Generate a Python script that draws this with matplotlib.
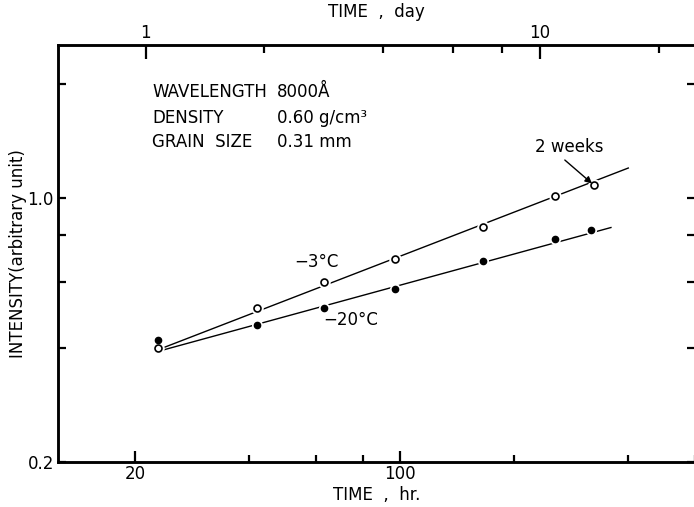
import numpy as np
import matplotlib
matplotlib.use("Agg")
from matplotlib import pyplot as plt
from matplotlib.ticker import FixedLocator, NullFormatter

# data
hours_warm = [23, 42, 63, 97, 165, 256, 325]
intensity_warm = [0.40, 0.51, 0.60, 0.69, 0.84, 1.01, 1.08]
hours_cold = [23, 42, 63, 97, 165, 256, 319]
intensity_cold = [0.42, 0.46, 0.51, 0.575, 0.68, 0.78, 0.82]

# hand drawn fitted lines (end points)
line_warm_x = [23.5, 400]
line_warm_y = [0.40, 1.20]
line_cold_x = [23.5, 360]
line_cold_y = [0.395, 0.835]

hr_major = [20, 100]
hr_minor = [40, 60, 80, 200, 400, 600]
day_major = [1, 10]
day_minor = [2, 4, 6, 8, 20]
int_major = [0.2, 1.0]
int_minor = [0.4, 0.6, 0.8, 2.0]

plt.rcParams['font.family'] = ['DejaVu Sans']

fig = plt.figure(figsize=(6.94, 5.07), dpi=100)
ax = fig.add_axes([58 / 694, 45 / 507, 637 / 694, 417 / 507])
ax.set_xscale("log")
ax.set_yscale("log")
ax.set_xlim(12.5, 600)
ax.set_ylim(0.2, 2.54)

ax.plot(line_warm_x, line_warm_y, color="black", linewidth=1.0, zorder=2)
ax.plot(line_cold_x, line_cold_y, color="black", linewidth=1.0, zorder=2)
# white halo so the line looks broken at each point
ax.plot(hours_warm, intensity_warm, linestyle="none", marker="o", markersize=8,
        markerfacecolor="white", markeredgecolor="white", zorder=3)
ax.plot(hours_cold, intensity_cold, linestyle="none", marker="o", markersize=7,
        markerfacecolor="white", markeredgecolor="white", zorder=3)
ax.plot(hours_warm, intensity_warm, linestyle="none", marker="o", markersize=5,
        markerfacecolor="white", markeredgecolor="black", markeredgewidth=1.2, zorder=4)
ax.plot(hours_cold, intensity_cold, linestyle="none", marker="o", markersize=4.5,
        markerfacecolor="black", markeredgecolor="black", zorder=4)

ax.xaxis.set_major_locator(FixedLocator(hr_major))
ax.xaxis.set_minor_locator(FixedLocator(hr_minor))
ax.set_xticklabels([str(v) for v in hr_major])
ax.xaxis.set_minor_formatter(NullFormatter())
ax.yaxis.set_major_locator(FixedLocator(int_major))
ax.yaxis.set_minor_locator(FixedLocator(int_minor))
ax.set_yticklabels(["0.2", "1.0"])
ax.yaxis.set_minor_formatter(NullFormatter())
ax.tick_params(which="both", direction="in", width=1.6, labelsize=12, right=True)
ax.tick_params(axis="x", which="major", length=8, pad=2)
ax.tick_params(axis="x", which="minor", length=5)
ax.tick_params(axis="y", which="both", length=6, pad=3)
for s in ax.spines.values():
    s.set_linewidth(1.8)

ax.set_xlabel("TIME  ,  hr.", fontsize=12, labelpad=2)
ax.set_ylabel("INTENSITY(arbitrary unit)", fontsize=12, labelpad=0)

top = ax.twiny()
top.set_xscale("log")
top.set_xlim(0.6, 24.7)
top.xaxis.set_major_locator(FixedLocator(day_major))
top.xaxis.set_minor_locator(FixedLocator(day_minor))
top.set_xticklabels([str(v) for v in day_major])
top.xaxis.set_minor_formatter(NullFormatter())
top.tick_params(which="both", direction="in", width=1.6, labelsize=12)
top.tick_params(which="major", length=10, pad=2)
top.tick_params(which="minor", length=6)
top.set_xlabel("TIME  ,  day", fontsize=12, labelpad=5)
for s in top.spines.values():
    s.set_linewidth(1.8)

ax.text(0.1476, 0.887, "WAVELENGTH", transform=ax.transAxes, fontsize=12, va="center")
ax.text(0.344, 0.887, "8000Å", transform=ax.transAxes, fontsize=12, va="center")
ax.text(0.1476, 0.825, "DENSITY", transform=ax.transAxes, fontsize=12, va="center")
ax.text(0.344, 0.825, "0.60 g/cm³", transform=ax.transAxes, fontsize=12, va="center")
ax.text(0.1476, 0.767, "GRAIN  SIZE", transform=ax.transAxes, fontsize=12, va="center")
ax.text(0.344, 0.767, "0.31 mm", transform=ax.transAxes, fontsize=12, va="center")

ax.text(60, 0.677, "−3°C", fontsize=12, ha="center", va="center")
ax.text(74, 0.475, "−20°C", fontsize=12, ha="center", va="center")
ax.text(279, 1.36, "2 weeks", fontsize=12, ha="center", va="center")
ax.annotate("", xy=(hours_warm[-1], intensity_warm[-1]), xytext=(272, 1.26),
            arrowprops=dict(arrowstyle="-|>", color="black", lw=1.0,
                            mutation_scale=10, shrinkA=0, shrinkB=2))

plt.savefig("out.png", dpi=100)
